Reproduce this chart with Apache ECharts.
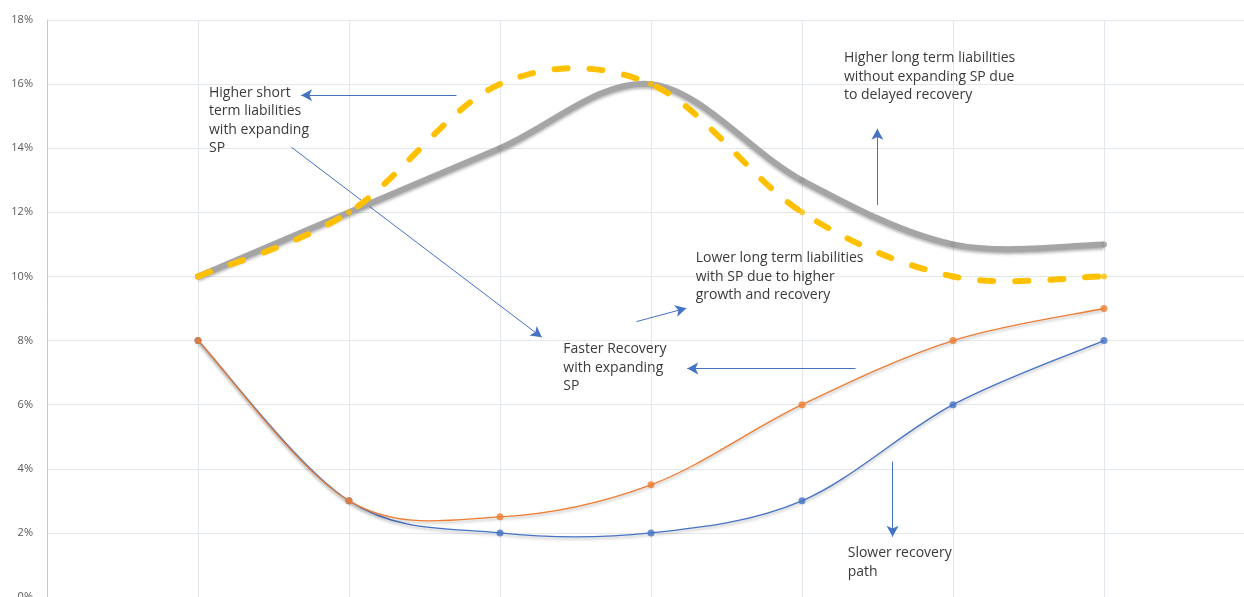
<!DOCTYPE html>
<html>
<head>
<meta charset="utf-8">
<script src="https://cdn.jsdelivr.net/npm/echarts@6/dist/echarts.min.js"></script>
<style>
html,body{margin:0;padding:0;background:#fff;}
#chart{width:1244px;height:597px;}
</style>
</head>
<body>
<div id="chart"></div>
<script>
// Data (x positions 1..7, values in %)
var xPoints = [1, 2, 3, 4, 5, 6, 7];
var blueSeries   = [8, 3, 2, 2, 3, 6, 8];
var orangeSeries = [8, 3, 2.5, 3.5, 6, 8, 9];
var graySeries   = [10, 12, 14, 16, 13, 11, 11];
var yellowSeries = [10, 12, 16, 16, 12, 10, 10];
var yTicks = [0, 2, 4, 6, 8, 10, 12, 14, 16, 18];

// Annotation arrows in data coordinates: [x1, y1, x2, y2] (arrow head at end)
var arrows = [
  [2.712, 15.65, 1.683, 15.65],
  [1.619, 14.03, 3.277, 8.10],
  [3.903, 8.59, 4.234, 9.01],
  [5.354, 7.13, 4.240, 7.13],
  [5.499, 12.23, 5.499, 14.61],
  [5.600, 4.22, 5.600, 1.88]
];
var notes = [
  "Higher short\nterm liabilities\nwith expanding\nSP",
  "Higher long term liabilities\nwithout expanding SP due\nto delayed recovery",
  "Lower long term liabilities\nwith SP due to higher\ngrowth and recovery",
  "Faster Recovery\nwith expanding\nSP",
  "Slower recovery\npath"
];

function pairs(vals){ return xPoints.map(function(x,i){ return [x, vals[i]]; }); }

// Smoothed (Catmull-Rom style) path through the points, in pixel space via the axes
function smoothSeries(name, vals, lineStyle, z){
  return {
    name:name, type:'custom', z:z, silent:true,
    data: pairs(vals),
    renderItem: function(params, api){
      if (params.dataIndex !== 0) return {type:'group', children:[]};
      var pts = xPoints.map(function(x,i){ return api.coord([x, vals[i]]); });
      var n = pts.length;
      var d = 'M' + pts[0][0] + ' ' + pts[0][1];
      for (var i = 0; i < n - 1; i++){
        var p0 = pts[Math.max(i-1,0)], p1 = pts[i], p2 = pts[i+1], p3 = pts[Math.min(i+2,n-1)];
        var c1x = p1[0] + (p2[0]-p0[0])/6, c1y = p1[1] + (p2[1]-p0[1])/6;
        var c2x = p2[0] - (p3[0]-p1[0])/6, c2y = p2[1] - (p3[1]-p1[1])/6;
        d += ' C' + c1x + ' ' + c1y + ' ' + c2x + ' ' + c2y + ' ' + p2[0] + ' ' + p2[1];
      }
      return {type:'path', shape:{pathData:d}, style:Object.assign({fill:null}, lineStyle)};
    }
  };
}
function markerSeries(name, vals, color, size, z){
  return {name:name+'-pts', type:'scatter', data:pairs(vals), symbol:'circle', symbolSize:size,
    itemStyle:{color:color}, z:z, silent:true};
}

var shadow = {shadowColor:'rgba(0,0,0,0.3)', shadowBlur:3, shadowOffsetY:2};

var chart = echarts.init(document.getElementById('chart'));
var textStyleBase = {font:'14px "Open Sans", sans-serif', fill:'#3a3a3a', lineHeight:18.5, textVerticalAlign:'top'};
var notePos = [[209,83.5],[844,49],[695.7,249],[563.3,340],[847.7,544]];

chart.setOption({
  animation:false,
  backgroundColor:'#fff',
  grid:{left:47, right:-11, top:20, bottom:0, containLabel:false, outerBoundsMode:'none'},
  xAxis:{type:'value', min:0, max:8, interval:1,
    axisLine:{show:false}, axisTick:{show:false}, axisLabel:{show:false},
    splitLine:{show:true, lineStyle:{color:'#e3e7ee', width:1}}},
  yAxis:{type:'value', min:yTicks[0], max:yTicks[yTicks.length-1], interval:2,
    axisLine:{show:true, lineStyle:{color:'#bccbe2', width:1}},
    axisTick:{show:false},
    axisLabel:{formatter:'{value}%', color:'#595959', fontSize:11, margin:14, fontFamily:'"Open Sans", sans-serif'},
    splitLine:{show:true, lineStyle:{color:'#e3e7ee', width:1}}},
  series:[
    smoothSeries('blue', blueSeries, Object.assign({stroke:'#4472C4', lineWidth:1.3}, shadow), 2),
    markerSeries('blue', blueSeries, '#4472C4', 7, 3),
    smoothSeries('orange', orangeSeries, Object.assign({stroke:'#ED7D31', lineWidth:1.3}, shadow), 4),
    markerSeries('orange', orangeSeries, '#ED7D31', 7, 5),
    smoothSeries('gray', graySeries, Object.assign({stroke:'#A5A5A5', lineWidth:6}, shadow), 6),
    markerSeries('gray', graySeries, '#999999', 6, 7),
    smoothSeries('yellow', yellowSeries, {stroke:'#FFC000', lineWidth:6, lineDash:[13,22], lineCap:'round'}, 8),
    markerSeries('yellow', yellowSeries, '#FFC000', 6, 9),
    {name:'arrows', type:'line', data:[], silent:true,
      markLine:{silent:true, symbol:['none','arrow'], symbolSize:[9,11], animation:false,
        label:{show:false},
        lineStyle:{color:'#4472C4', width:1, type:'solid'},
        emphasis:{disabled:true},
        data:arrows.map(function(a){ return [{coord:[a[0],a[1]]},{coord:[a[2],a[3]]}]; })}}
  ],
  graphic: notes.map(function(t,i){
    return {type:'text', x:notePos[i][0], y:notePos[i][1], silent:true, z:100,
      style:Object.assign({text:t}, textStyleBase)};
  })
});
</script>
</body>
</html>
